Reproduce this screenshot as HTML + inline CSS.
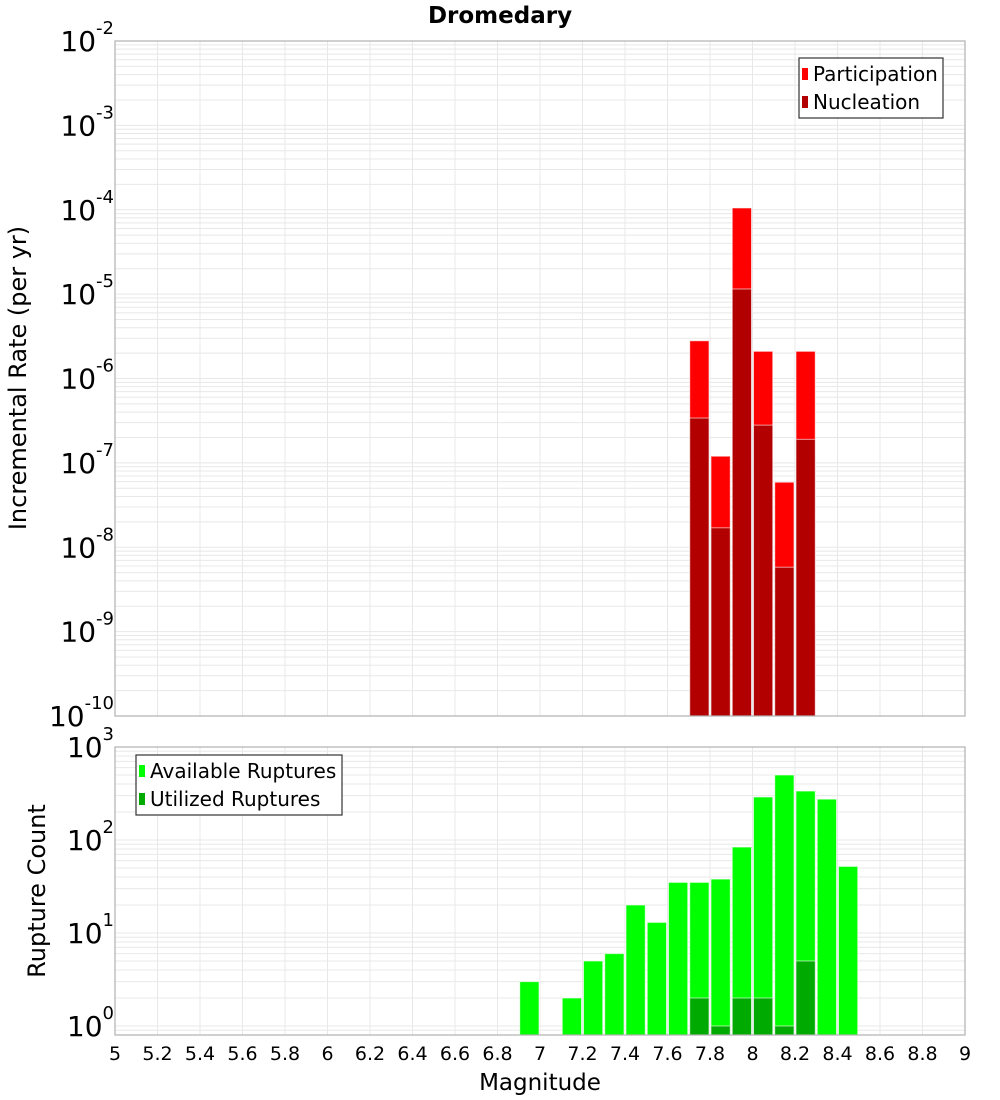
<!DOCTYPE html>
<html><head><meta charset="utf-8">
<style>
html,body{margin:0;padding:0;background:#fff;}
svg{display:block;font-family:"DejaVu Sans","Liberation Sans",sans-serif;}
</style></head>
<body>
<svg id="chart" width="1000" height="1100" viewBox="0 0 1000 1100" xmlns="http://www.w3.org/2000/svg">
<text x="500" y="23" text-anchor="middle" font-size="23" font-weight="bold">Dromedary</text>
<text transform="translate(26,378) rotate(-90)" text-anchor="middle" font-size="24">Incremental Rate (per yr)</text>
<text transform="translate(45,891) rotate(-90)" text-anchor="middle" font-size="24">Rupture Count</text>
<text x="540" y="1090" text-anchor="middle" font-size="23">Magnitude</text>
<g id="top"></g>
<g id="bottom"></g>
</svg>
<script>
const binCenters = [7.75, 7.85, 7.95, 8.05, 8.15, 8.25];
const participation = [2.8e-6, 1.2e-7, 1.05e-4, 2.1e-6, 5.9e-8, 2.1e-6];
const nucleation = [3.4e-7, 1.7e-8, 1.15e-5, 2.8e-7, 5.8e-9, 1.9e-7];
const countCenters = [6.95, 7.15, 7.25, 7.35, 7.45, 7.55, 7.65, 7.75, 7.85, 7.95, 8.05, 8.15, 8.25, 8.35, 8.45];
const available = [3, 2, 5, 6, 20, 13, 35, 35, 38, 84, 290, 500, 336, 275, 52];
const utilized = [0, 0, 0, 0, 0, 0, 0, 2, 1, 2, 2, 1, 5, 0, 0];
const xTicks = ["5","5.2","5.4","5.6","5.8","6","6.2","6.4","6.6","6.8","7","7.2","7.4","7.6","7.8","8","8.2","8.4","8.6","8.8","9"];
const topExps = [-2,-3,-4,-5,-6,-7,-8,-9,-10];
const botExps = [3,2,1,0];

const NS = "http://www.w3.org/2000/svg";
const X0=115, X1=965, XMIN=5, XMAX=9;
const xs = v => X0 + (v-XMIN)/(XMAX-XMIN)*(X1-X0);
function mk(tag, attrs, parent){const e=document.createElementNS(NS,tag);for(const k in attrs)e.setAttribute(k,attrs[k]);parent.appendChild(e);return e;}

function panel(g, top, bottom, lmin, lmax, yTickLbl){
  const ys = v => bottom - (Math.log10(v)-lmin)/(lmax-lmin)*(bottom-top);
  for(let d=Math.floor(lmin); d<Math.ceil(lmax); d++){
    for(let m=1;m<10;m++){
      const lv=d+Math.log10(m); if(lv<lmin||lv>lmax) continue;
      const y=ys(Math.pow(10,lv));
      const ln=mk('line',{x1:X0,x2:X1,y1:y,y2:y,stroke:'#e8e8e8','stroke-width':1},g);
      
      
    }
  }
  xTicks.forEach(t=>{const x=xs(+t);
    const ln=mk('line',{x1:x,x2:x,y1:top,y2:bottom,stroke:'#e8e8e8','stroke-width':1},g);
    
    
  });
  yTickLbl.forEach(e=>{
    const y=ys(Math.pow(10,e));
    const t=mk('text',{x:X0-1,y:y+10,'text-anchor':'end','font-size':28},g);
    
    
    const a=mk('tspan',{},t);a.textContent='10';
    const b=mk('tspan',{dy:-17,'font-size':18},t);b.textContent=String(e);
  });
  return ys;
}

function bars(g, ys, centers, vals, color, bottom, name){
  centers.forEach((c,i)=>{
    if(vals[i]<=0) return;
    const xa=xs(c-0.05)+1, xb=xs(c+0.05)-1;
    const y=Math.min(ys(vals[i]),bottom);
    const r=mk('rect',{x:xa,y:y,width:xb-xa,height:bottom-y,fill:color,stroke:'rgba(255,255,255,0.6)','stroke-width':1},g);
    
    
  });
}

function legend(g,x,y,w,items){
  const box=mk('rect',{x:x,y:y,width:w,height:items.length*28+4,fill:'#fff',stroke:'#333','stroke-width':1.2},g);
  
  
  items.forEach((it,i)=>{
    const cy=y+16+i*28;
    const sw=mk('rect',{x:x+3,y:cy-6,width:6,height:12,fill:it[1]},g);
    
    
    const t=mk('text',{x:x+14,y:cy+7,'font-size':20},g);
    
    
    t.textContent=it[0];
  });
}

const gt=document.getElementById('top');
const TT=41, TB=716;
const yt=panel(gt,TT,TB,-10,-2,topExps);
bars(gt,yt,binCenters,participation,'#ff0000',TB,'participation-bar');
bars(gt,yt,binCenters,nucleation,'#b20000',TB,'nucleation-bar');
const f1=mk('rect',{x:X0,y:TT,width:X1-X0,height:TB-TT,fill:'none',stroke:'#b0b0b0','stroke-width':1.2},gt);


legend(gt,799,58,144,[['Participation','#ff0000'],['Nucleation','#b20000']]);

const gb=document.getElementById('bottom');
const BT=747, BB=1035;
const lminB=-(BB-1026)/93;
const yb=panel(gb,BT,BB,lminB,3,botExps);
bars(gb,yb,countCenters,available,'#00ff00',BB,'available-bar');
bars(gb,yb,countCenters,utilized,'#00aa00',BB,'utilized-bar');
const f2=mk('rect',{x:X0,y:BT,width:X1-X0,height:BB-BT,fill:'none',stroke:'#b0b0b0','stroke-width':1.2},gb);


legend(gb,136,755,206,[['Available Ruptures','#00ff00'],['Utilized Ruptures','#00aa00']]);
xTicks.forEach(t=>{
  const tx=mk('text',{x:xs(+t),y:1060,'text-anchor':'middle','font-size':19},gb);
  
  
  tx.textContent=t;
});
</script>
</body></html>
